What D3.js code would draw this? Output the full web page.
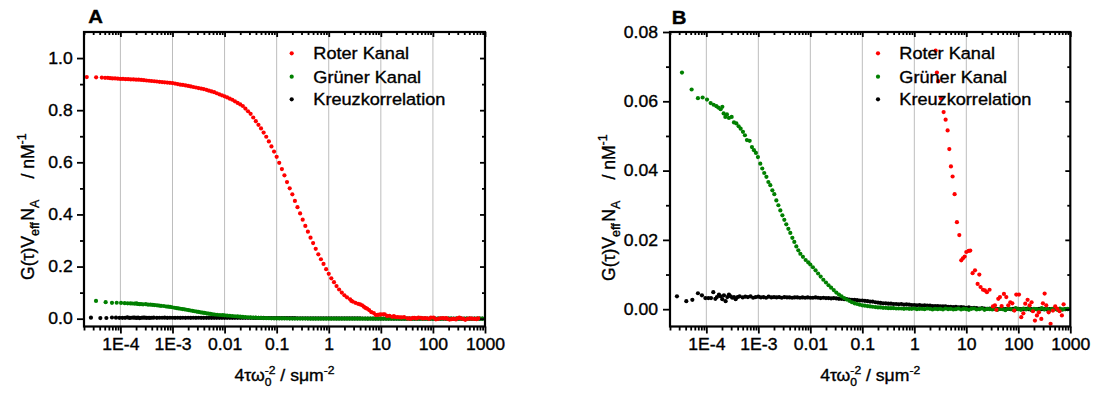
<!DOCTYPE html>
<html>
<head>
<meta charset="utf-8">
<script src="https://cdn.jsdelivr.net/npm/d3@7"></script>
<style>
  body { margin: 0; background: #fff; }
  svg text { font-family: "Liberation Sans", Arial, sans-serif; fill: #000; stroke: #000; stroke-width: 0.35px; }
</style>
</head>
<body>
<svg id="chart" width="1096" height="394"></svg>
<script>
// ---- data: [4τ/ω0² in µm^-2, G(τ)·Veff·NA in nM^-1] ----
const rotKanal = [
  [2.26e-5,0.927],[3.42e-5,0.926],[4.40e-5,0.925],[5.08e-5,0.924],[5.73e-5,0.924],[6.34e-5,0.923],[7.03e-5,0.922],[7.90e-5,0.922],
  [8.91e-5,0.921],[1.00e-4,0.920],[1.12e-4,0.920],[1.26e-4,0.919],[1.41e-4,0.919],[1.58e-4,0.918],[1.78e-4,0.918],[2.00e-4,0.917],
  [2.24e-4,0.917],[2.51e-4,0.916],[2.82e-4,0.915],[3.16e-4,0.914],[3.55e-4,0.913],[3.98e-4,0.912],[4.47e-4,0.911],[5.01e-4,0.910],
  [5.62e-4,0.909],[6.31e-4,0.908],[7.08e-4,0.907],[7.94e-4,0.906],[8.91e-4,0.905],
  [1.00e-3,0.904],[1.12e-3,0.902],[1.26e-3,0.900],[1.41e-3,0.898],[1.58e-3,0.897],[1.78e-3,0.895],[2.00e-3,0.893],[2.24e-3,0.891],
  [2.51e-3,0.889],[2.82e-3,0.887],[3.16e-3,0.885],[3.55e-3,0.883],[3.98e-3,0.881],[4.47e-3,0.878],[5.01e-3,0.875],[5.62e-3,0.872],
  [6.31e-3,0.869],[7.08e-3,0.865],[7.94e-3,0.861],[8.91e-3,0.857],
  [1.00e-2,0.853],[1.12e-2,0.849],[1.26e-2,0.844],[1.41e-2,0.840],[1.58e-2,0.834],[1.78e-2,0.828],[2.00e-2,0.822],[2.24e-2,0.816],
  [2.51e-2,0.806],[2.82e-2,0.796],[3.16e-2,0.786],[3.55e-2,0.772],[3.98e-2,0.758],[4.47e-2,0.744],[5.01e-2,0.730],[5.62e-2,0.714],
  [6.31e-2,0.698],[7.08e-2,0.680],[7.94e-2,0.661],[8.91e-2,0.641],
  [0.100,0.621],[0.112,0.598],[0.126,0.574],[0.141,0.550],[0.158,0.524],[0.178,0.500],[0.200,0.477],[0.224,0.452],[0.251,0.428],
  [0.282,0.404],[0.316,0.380],[0.355,0.356],[0.398,0.334],[0.447,0.311],[0.501,0.290],[0.562,0.268],[0.631,0.247],[0.708,0.228],
  [0.794,0.210],[0.891,0.190],
  [1.00,0.172],[1.12,0.155],[1.26,0.140],[1.41,0.125],[1.58,0.112],[1.78,0.100],[2.00,0.090],[2.24,0.082],
  [2.57,0.0746],[2.72,0.0683],[2.89,0.0658],[3.25,0.0608],[3.66,0.0569],[4.00,0.0547],[4.37,0.0516],[4.71,0.0462],[5.06,0.0412],
  [5.45,0.0383],[5.96,0.0332],[6.60,0.0251],[7.33,0.0214],[8.00,0.0141],[8.60,0.0147],[9.30,0.0152],[10.0,0.0165],[11.1,0.0168],
  [11.9,0.0169],[13.2,0.0104],[14.7,0.0112],[16.5,0.0073],[17.8,0.0100],[18.8,0.0064],[20.9,0.0056],[22.8,0.0054],[24.9,0.0049],
  [28.0,0.0056],[32.5,0.0008],[35.5,0.0011],[37.8,-0.0002],[41.2,0.0030],[44.4,0.0035],[47.8,0.0009],[52.9,0.0044],[58.8,0.0035],
  [64.2,0.0011],[70.2,0.0020],[76.7,0.0017],[83.8,-0.0004],[91.5,0.0042],[103,0.0042],[114,-0.0023],[125,-0.0012],[136,0.0016],
  [151,0.0027],[165,0.0011],[180,0.0020],[191,-0.0006],[209,-0.0033],[228,-0.0018],[249,-0.0009],[277,-0.0028],[297,0.0017],
  [321,0.0045],[345,0.0011],[383,-0.0009],[418,-0.0042],[463,-0.0004],[513,0.0008],[562,0.0001],[622,-0.0006],[689,-0.0018],[743,0.0014]
];

const gruenKanal = [
  [3.40e-5,0.0683],[5.21e-5,0.0634],[6.89e-5,0.0609],[8.49e-5,0.0611],[1.03e-4,0.0605],[1.21e-4,0.0595],[1.38e-4,0.0590],
  [1.56e-4,0.0586],[1.70e-4,0.0582],[1.88e-4,0.0577],[2.03e-4,0.0584],[2.15e-4,0.0565],[2.32e-4,0.0555],[2.49e-4,0.0562],
  [2.72e-4,0.0552],[3.07e-4,0.0555],[3.40e-4,0.0539],[3.78e-4,0.0536],[4.18e-4,0.0528],[4.57e-4,0.0521],[5.06e-4,0.0512],
  [5.52e-4,0.0502],[6.04e-4,0.0488],[6.81e-4,0.0486],[7.53e-4,0.0468],[8.23e-4,0.0459],[8.99e-4,0.0451],[9.82e-4,0.0439],
  [1.09e-3,0.0420],[1.19e-3,0.0406],[1.30e-3,0.0393],[1.43e-3,0.0382],[1.56e-3,0.0367],[1.70e-3,0.0358],[1.86e-3,0.0343],
  [2.03e-3,0.0332],[2.22e-3,0.0314],[2.43e-3,0.0300],[2.65e-3,0.0285],[2.90e-3,0.0271],[3.16e-3,0.0258],[3.45e-3,0.0245],
  [3.78e-3,0.0232],[4.12e-3,0.0220],[4.51e-3,0.0206],[4.92e-3,0.0194],[5.38e-3,0.0181],[5.88e-3,0.0170],[6.43e-3,0.0160],
  [7.21e-3,0.0151],[8.13e-3,0.0142],[9.12e-3,0.0135],[1.00e-2,0.0129],[1.12e-2,0.0121],[1.26e-2,0.0112],[1.41e-2,0.0103],
  [1.58e-2,0.0094],[1.78e-2,0.0085],[2.00e-2,0.0077],[2.24e-2,0.0069],[2.51e-2,0.0062],[2.82e-2,0.0055],[3.16e-2,0.0048],
  [3.55e-2,0.0042],[3.98e-2,0.0037],[4.47e-2,0.0032],[5.01e-2,0.0028],[5.62e-2,0.0024],[6.31e-2,0.0020],[7.08e-2,0.0017],
  [7.94e-2,0.0015],[8.91e-2,0.0013],[0.100,0.0011],[0.112,0.0010],[0.126,0.0009],[0.141,0.0008],[0.158,0.0007],[0.178,0.0006],
  [0.200,0.0005],[0.224,0.0005],[0.251,0.0004],[0.282,0.0004],[0.316,0.0003],[0.355,0.0003],[0.398,0.0003],[0.447,0.0002],
  [0.501,0.0002],[0.562,0.0002],[0.631,0.0001],[0.708,0.0002],[0.794,0.0001],[0.891,0.0001],[1.00,0.0002],[1.12,0.0000],
  [1.26,0.0001],[1.41,0.0001],[1.58,0.0000],[1.78,0.0002],[2.00,0.0001],[2.24,-0.0001],[2.51,0.0001],[2.82,0.0000],[3.16,0.0001],
  [3.55,-0.0001],[3.98,0.0002],[4.47,0.0000],[5.01,0.0001],[5.62,-0.0001],[6.31,0.0000],[7.08,0.0002],[7.94,-0.0001],[8.91,0.0001],
  [10.0,0.0000],[11.2,-0.0002],[12.6,0.0001],[14.1,0.0002],[15.8,-0.0001],[17.8,0.0000],[20.0,0.0002],[22.4,-0.0002],[25.1,0.0001],
  [28.2,0.0000],[31.6,-0.0001],[35.5,0.0003],[39.8,-0.0002],[44.7,0.0001],[50.1,0.0000],[56.2,-0.0003],[63.1,0.0002],[70.8,0.0001],
  [79.4,-0.0002],[89.1,0.0003],[100,0.0000],[112,-0.0002],[126,0.0002],[141,-0.0001],[158,0.0003],[178,-0.0003],[200,0.0001],
  [224,0.0000],[251,-0.0002],[282,0.0003],[316,-0.0001],[355,0.0002],[398,-0.0003],[447,0.0001],[501,0.0000],[562,-0.0002],
  [631,0.0002],[708,-0.0001],[794,0.0000],[891,0.0001]
];

const kreuzKorrelation = [
  [2.72e-5,0.0037],[4.12e-5,0.0023],[5.38e-5,0.0027],[6.89e-5,0.0046],[8.22e-5,0.0040],[9.57e-5,0.0032],[1.09e-4,0.0032],
  [1.23e-4,0.0032],[1.36e-4,0.0049],[1.49e-4,0.0030],[1.60e-4,0.0035],[1.75e-4,0.0042],[1.88e-4,0.0037],[2.03e-4,0.0029],
  [2.18e-4,0.0040],[2.35e-4,0.0023],[2.53e-4,0.0035],[2.72e-4,0.0042],[2.93e-4,0.0037],[3.16e-4,0.0033],[3.40e-4,0.0035],
  [3.66e-4,0.0029],[4.00e-4,0.0035],[4.37e-4,0.0037],
  [5.01e-4,0.0034],[5.62e-4,0.0036],[6.31e-4,0.0035],[7.08e-4,0.0037],[7.94e-4,0.0033],[8.91e-4,0.0035],[1.00e-3,0.0036],
  [1.12e-3,0.0034],[1.26e-3,0.0035],[1.41e-3,0.0033],[1.58e-3,0.0036],[1.78e-3,0.0034],[2.00e-3,0.0035],[2.24e-3,0.0034],
  [2.51e-3,0.0035],[2.82e-3,0.0033],[3.16e-3,0.0035],[3.55e-3,0.0034],[3.98e-3,0.0034],[4.47e-3,0.0033],[5.01e-3,0.0034],
  [5.62e-3,0.0034],[6.31e-3,0.0033],[7.08e-3,0.0034],[7.94e-3,0.0033],[8.91e-3,0.0034],[1.00e-2,0.0033],[1.12e-2,0.0033],
  [1.26e-2,0.0034],[1.41e-2,0.0033],[1.58e-2,0.0032],[1.78e-2,0.0033],[2.00e-2,0.0032],[2.24e-2,0.0032],[2.51e-2,0.0031],
  [2.82e-2,0.0032],[3.16e-2,0.0031],[3.55e-2,0.0030],[3.98e-2,0.0030],[4.47e-2,0.0029],[5.01e-2,0.0029],[5.62e-2,0.0028],
  [6.31e-2,0.0027],[7.08e-2,0.0027],[7.94e-2,0.0026],[8.91e-2,0.0025],[0.100,0.0025],[0.112,0.0024],[0.126,0.0023],
  [0.141,0.0022],[0.158,0.0022],[0.178,0.0020],[0.200,0.0019],[0.224,0.0018],[0.251,0.0017],[0.282,0.0017],[0.316,0.0016],
  [0.355,0.0016],[0.398,0.0015],[0.447,0.0015],[0.501,0.0014],[0.562,0.0015],[0.631,0.0013],[0.708,0.0014],[0.794,0.0013],
  [0.891,0.0012],[1.00,0.0012],[1.12,0.0011],[1.26,0.0012],[1.41,0.0010],[1.58,0.0011],[1.78,0.0010],[2.00,0.0010],[2.24,0.0009],
  [2.51,0.0009],[2.82,0.0009],[3.16,0.0008],[3.55,0.0008],[3.98,0.0008],[4.47,0.0007],[5.01,0.0007],[5.62,0.0006],[6.31,0.0007],
  [7.08,0.0005],[7.94,0.0006],[8.91,0.0005],[10.0,0.0004],[11.2,0.0005],[12.6,0.0003],[14.1,0.0004],[15.8,0.0003],[17.8,0.0002],
  [20.0,0.0003],[22.4,0.0002],[25.1,0.0001],[28.2,0.0002],[31.6,0.0001],[35.5,0.0001],[39.8,0.0000],[44.7,0.0001],[50.1,0.0001],
  [56.2,0.0000],[63.1,0.0001],[70.8,0.0000],[79.4,0.0001],[89.1,0.0000],[100,0.0001],[112,0.0000],[126,0.0000],[141,0.0001],
  [158,0.0000],[178,0.0000],[200,-0.0001],[224,0.0000],[251,0.0001],[282,0.0000],[316,0.0000],[355,-0.0001],[398,0.0000],
  [447,0.0000],[501,0.0001],[562,0.0000],[631,0.0000],[708,-0.0001],[794,0.0000],[891,0.0000]
];

const legendNames = ["Roter Kanal", "Grüner Kanal", "Kreuzkorrelation"];
const seriesColors = ["#ff0000", "#008000", "#000000"];

const xTickValues = [1e-4, 1e-3, 1e-2, 1e-1, 1, 10, 100, 1000];
const xTickLabels = ["1E-4", "1E-3", "0.01", "0.1", "1", "10", "100", "1000"];

const yTicksA = [0, 0.2, 0.4, 0.6, 0.8, 1.0];
const yLabelsA = ["0.0", "0.2", "0.4", "0.6", "0.8", "1.0"];
const yMinorA = [0.1, 0.3, 0.5, 0.7, 0.9];
const yTicksB = [0, 0.02, 0.04, 0.06, 0.08];
const yLabelsB = ["0.00", "0.02", "0.04", "0.06", "0.08"];
const yMinorB = [0.01, 0.03, 0.05, 0.07];

// ---- layout ----
const FONT = '"Liberation Sans", Arial, sans-serif';
const TOP = 32, BOTTOM = 326.5;
const R = 2.1;
const SX = 1.1; // text in the source image is slightly wider than tall
const legendRows = [53.3, 76.7, 99.3];

const panels = [
  {letter:"A", letterX:88.3, letterY:23.3, left:84, right:485, yDomain:[-0.03, 1.1],
   yTicks:yTicksA, yLabels:yLabelsA, yMinor:yMinorA, labelRight:72.7, titleX:34, titleY:280,
   dotX:291.7, textX:313.3},
  {letter:"B", letterX:671.7, letterY:24, left:670, right:1070.3, yDomain:[-0.005, 0.08],
   yTicks:yTicksB, yLabels:yLabelsB, yMinor:yMinorB, labelRight:658, titleX:615, titleY:281,
   dotX:878, textX:899.3}
];

const svg = d3.select("#chart");

// text made of pieces with sub/superscripts; stack:true means next piece sits at same x
function richText(parent, parts, size) {
  const g = parent.append("g");
  let x = 0, pending = 0;
  parts.forEach(p => {
    const t = g.append("text")
      .attr("x", x).attr("y", p.dy || 0)
      .attr("font-size", p.size || size)
      .style("white-space", "pre")
      .text(p.t);
    const w = t.node().getComputedTextLength() + (p.gap || 0);
    if (p.stack) pending = w;
    else { x += Math.max(w, pending); pending = 0; }
  });
  return {g, width: x};
}

const tidy = sel => {
  sel.select(".domain").remove();
  sel.selectAll(".tick line").attr("stroke", "#000").attr("stroke-width", 1.8);
  sel.attr("font-family", FONT).attr("font-size", 16).attr("fill", null);
};

panels.forEach((p, pi) => {
  const x = d3.scaleLog().domain([2e-5, 1000]).range([p.left, p.right]);
  const y = d3.scaleLinear().domain(p.yDomain).range([BOTTOM, TOP]);
  const g = svg.append("g");

  // vertical grid at decades
  g.append("g").selectAll("line")
    .data(xTickValues.filter(v => v < 1000))
    .join("line")
      .attr("x1", d => x(d)).attr("x2", d => x(d))
      .attr("y1", TOP).attr("y2", BOTTOM)
      .attr("stroke", "#bdbdbd").attr("stroke-width", 1);

  // data
  svg.append("clipPath").attr("id", "clip" + pi)
    .append("rect")
      .attr("x", p.left).attr("y", TOP)
      .attr("width", p.right - p.left).attr("height", BOTTOM - TOP);
  const plot = g.append("g").attr("clip-path", `url(#clip${pi})`);
  const series = [rotKanal, gruenKanal, kreuzKorrelation];
  [2, 1, 0].forEach(si => {
    plot.append("g").attr("fill", seriesColors[si])
      .selectAll("circle")
      .data(series[si])
      .join("circle")
        .attr("cx", d => x(d[0]))
        .attr("cy", d => y(d[1]))
        .attr("r", R);
  });

  // axes
  const minorX = x.ticks().filter(v => !xTickValues.some(m => Math.abs(v / m - 1) < 1e-6));

  g.append("g").attr("transform", `translate(0,${BOTTOM})`)
    .call(d3.axisBottom(x).tickValues(xTickValues).tickSize(7)
      .tickFormat(d => xTickLabels[xTickValues.indexOf(d)]))
    .call(tidy)
    .call(s => s.selectAll("text").attr("y", 12.6).attr("transform", `scale(${SX},1)`));
  g.append("g").attr("transform", `translate(0,${BOTTOM})`)
    .call(d3.axisBottom(x).tickValues(minorX).tickSize(4).tickFormat(() => ""))
    .call(tidy);
  g.append("g").attr("transform", `translate(0,${TOP})`)
    .call(d3.axisBottom(x).tickValues(xTickValues).tickSize(5).tickFormat(() => ""))
    .call(tidy);
  g.append("g").attr("transform", `translate(0,${TOP})`)
    .call(d3.axisBottom(x).tickValues(minorX).tickSize(3).tickFormat(() => ""))
    .call(tidy);

  g.append("g").attr("transform", `translate(${p.left},0)`)
    .call(d3.axisLeft(y).tickValues(p.yTicks).tickSize(7)
      .tickFormat(d => p.yLabels[p.yTicks.indexOf(d)]))
    .call(tidy)
    .call(s => s.selectAll("text")
      .attr("x", -(p.left - p.labelRight) / SX)
      .attr("transform", `scale(${SX},1)`));
  g.append("g").attr("transform", `translate(${p.left},0)`)
    .call(d3.axisLeft(y).tickValues(p.yMinor).tickSize(4).tickFormat(() => ""))
    .call(tidy);
  g.append("g").attr("transform", `translate(${p.right},0)`)
    .call(d3.axisLeft(y).tickValues(p.yTicks).tickSize(5).tickFormat(() => ""))
    .call(tidy);
  g.append("g").attr("transform", `translate(${p.right},0)`)
    .call(d3.axisLeft(y).tickValues(p.yMinor).tickSize(3).tickFormat(() => ""))
    .call(tidy);

  // frame
  g.append("rect")
    .attr("x", p.left).attr("y", TOP)
    .attr("width", p.right - p.left).attr("height", BOTTOM - TOP)
    .attr("fill", "none").attr("stroke", "#000").attr("stroke-width", 2.2);

  // panel letter
  g.append("text")
    .attr("transform", `translate(${p.letterX},${p.letterY}) scale(${SX},1)`)
    .attr("font-size", 18.5).attr("font-weight", "bold")
    .text(p.letter);

  // legend
  legendNames.forEach((name, i) => {
    g.append("circle")
      .attr("cx", p.dotX).attr("cy", legendRows[i]).attr("r", R)
      .attr("fill", seriesColors[i]);
    g.append("text")
      .attr("transform", `translate(${p.textX},${legendRows[i] + 6}) scale(${SX},1)`)
      .attr("font-size", 16.5)
      .text(name);
  });

  // x title
  const xt = richText(g, [
    {t: "4τω"},
    {t: "-2", size: 11, dy: -7, stack: true},
    {t: "0", size: 11, dy: 5},
    {t: " / sμm"},
    {t: "-2", size: 11, dy: -7}
  ], 16);
  const cx = (p.left + p.right) / 2;
  xt.g.attr("transform", `translate(${cx - xt.width * SX / 2},381) scale(${SX},1)`);

  // y title
  const yt = richText(g, [
    {t: "G(τ)V"},
    {t: "eff", size: 12.5, dy: 4.5, gap: 1.5},
    {t: "N"},
    {t: "A", size: 12.5, dy: 4.5, gap: 1.5},
    {t: "    / nM"},
    {t: "-1", size: 12.5, dy: -8}
  ], 17.6);
  yt.g.attr("transform", `translate(${p.titleX},${p.titleY}) rotate(-90)`);
});
</script>
</body>
</html>
